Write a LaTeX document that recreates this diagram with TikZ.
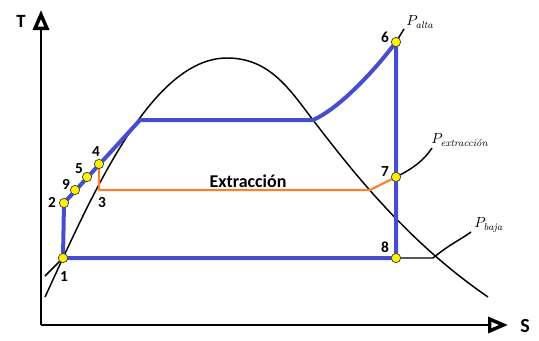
\documentclass[tikz,border=0pt]{standalone}
\usepackage{fontspec}
\setsansfont{Carlito}
\usetikzlibrary{arrows.meta}
\definecolor{cycblue}{RGB}{70,78,208}
\definecolor{extorange}{RGB}{252,128,44}
\definecolor{dotyellow}{RGB}{255,242,0}
\newcommand{\plabel}[1]{$P_{\mbox{\fontsize{7.5}{7.5}\selectfont\itshape #1}}$}
\tikzset{
  axis/.style={line width=1.6pt, -{Triangle[open, length=15pt, width=12pt, line width=2.6pt]}},
  curve/.style={line width=1.1pt},
  cycle/.style={line width=3pt, cycblue},
  extline/.style={line width=1.6pt, extorange},
  pt/.style={circle, fill=dotyellow, draw=black!70, line width=0.6pt, minimum size=7pt, inner sep=0pt},
  num/.style={font=\sffamily\bfseries\fontsize{11.5}{11.5}\selectfont, inner sep=0pt},
  plab/.style={font=\fontsize{11}{11}\selectfont, inner sep=0pt, anchor=west}
}
\begin{document}
\begin{tikzpicture}[x=0.75pt, y=-0.75pt]
\useasboundingbox (0,0) rectangle (539,340);
% axes
\coordinate (O) at (41,325);
\coordinate (Ytop) at (41,10);
\coordinate (Xend) at (508,325);
\draw[axis] (O) -- (Ytop);
\draw[axis] (O) -- (Xend);
\node[font=\sffamily\bfseries\fontsize{14}{14}\selectfont] (T) at (21,21) {T};
\node[font=\sffamily\bfseries\fontsize{15}{15}\selectfont] (S) at (525,326) {S};
% saturation dome
\coordinate (d0) at (45,297);
\coordinate (dtop) at (227,58);
\coordinate (br) at (313,120);
\coordinate (dend) at (488,297);
\draw[curve] (d0) .. controls (90,200) and (150,58) .. (dtop)
  .. controls (270,58) and (290,90) .. (br)
  .. controls (350,168) and (405,240) .. (dend);
% points
\coordinate (c1) at (63,258);
\coordinate (c2) at (64,203);
\coordinate (c9) at (75,190);
\coordinate (c5) at (87,177);
\coordinate (c4) at (99,164);
\coordinate (c3) at (99,190);
\coordinate (c6) at (396,42);
\coordinate (c7) at (396,177);
\coordinate (c8) at (396,258);
\coordinate (bl) at (140,120);
\coordinate (ob) at (370,190);
% isobar lines (black)
\coordinate (lq) at (45,276);
\draw[curve] (lq) -- (c1);
\coordinate (pb) at (433,258);
\coordinate (pbend) at (471,232);
\draw[curve] (c8) -- (pb) .. controls (450,244) and (460,240) .. (pbend);
\coordinate (pe) at (432,148);
\draw[curve] (c7) .. controls (414,168) and (424,160) .. (pe);
\coordinate (pa) at (404,29);
\draw[curve] (c6) -- (pa);
% orange extraction
\draw[extline, line join=round] (c4) -- (c3) -- (ob) -- (c7);
% blue cycle
\draw[cycle, line join=round] (c1) -- (c2) -- (bl) -- (br) .. controls (340,108) and (375,70) .. (c6) -- (c8) -- (c1);
% dots
\foreach \p in {1,2,9,5,4,6,7,8} \node[pt] (d\p) at (c\p) {};
% numbers
\node[num] (n1) at (64,277) {1};
\node[num] (n2) at (52,202) {2};
\node[num] (n9) at (66,184) {9};
\node[num] (n5) at (79,169) {5};
\node[num] (n4) at (96,152) {4};
\node[num] (n3) at (102,203) {3};
\node[num] (n6) at (385,37) {6};
\node[num] (n7) at (385,172) {7};
\node[num] (n8) at (385,247) {8};
\node[num, font=\sffamily\bfseries\fontsize{13.5}{13.5}\selectfont] (ext) at (248,181) {Extracción};
% pressure labels
\node[plab] (Pa) at (406,22) {\plabel{alta}};
\node[plab] (Pe) at (431,140) {\plabel{extracción}};
\node[plab] (Pb) at (474,225) {\plabel{baja}};
\end{tikzpicture}
\end{document}
